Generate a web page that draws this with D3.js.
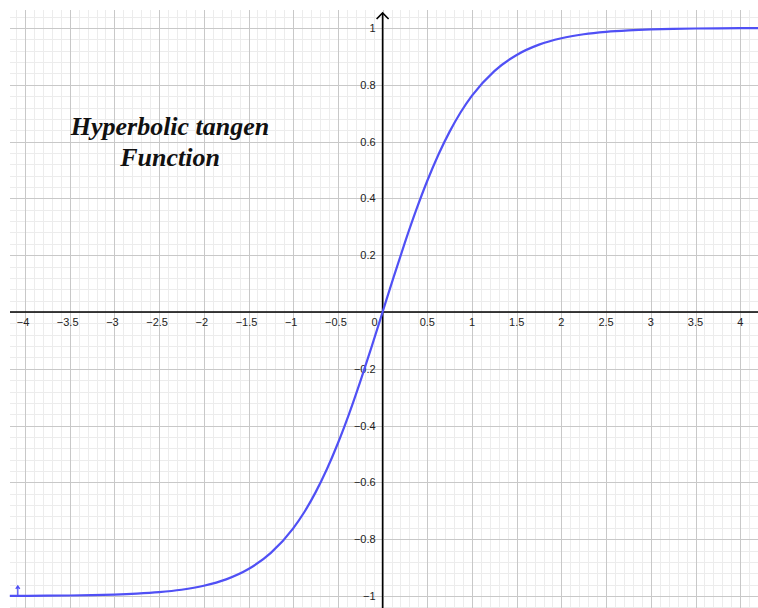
<!DOCTYPE html>
<html>
<head>
<meta charset="utf-8">
<script src="https://cdn.jsdelivr.net/npm/d3@7"></script>
<style>
  html, body { margin: 0; padding: 0; background: #fff; }
  svg { display: block; }
</style>
</head>
<body>
<svg id="chart" width="758" height="608"></svg>
<script>
// Sampled points of y = tanh(x)
const xs = [-4.17, -4, -3.75, -3.5, -3.25, -3, -2.75, -2.5, -2.25, -2, -1.75, -1.5, -1.25, -1,
            -0.875, -0.75, -0.625, -0.5, -0.375, -0.25, -0.125, 0, 0.125, 0.25, 0.375, 0.5,
            0.625, 0.75, 0.875, 1, 1.25, 1.5, 1.75, 2, 2.25, 2.5, 2.75, 3, 3.25, 3.5, 3.75, 4, 4.2];
const ys = [-0.9995, -0.9993, -0.9989, -0.9982, -0.9970, -0.9951, -0.9918, -0.9866, -0.9780, -0.9640,
            -0.9414, -0.9051, -0.8483, -0.7616, -0.7042, -0.6351, -0.5546, -0.4621, -0.3584, -0.2449,
            -0.1244, 0, 0.1244, 0.2449, 0.3584, 0.4621, 0.5546, 0.6351, 0.7042, 0.7616, 0.8483,
            0.9051, 0.9414, 0.9640, 0.9780, 0.9866, 0.9918, 0.9951, 0.9970, 0.9982, 0.9989, 0.9993, 0.9995];

const xTicks = [-4, -3.5, -3, -2.5, -2, -1.5, -1, -0.5, 0.5, 1, 1.5, 2, 2.5, 3, 3.5, 4];
const yTicks = [1, 0.8, 0.6, 0.4, 0.2, -0.2, -0.4, -0.6, -0.8, -1];
const titleLines = ["Hyperbolic tangen", "Function"];

const svg = d3.select("#chart");
const padL = 10, padR = 758, padT = 10, padB = 608;

const x = d3.scaleLinear().domain([-4, 4]).range([25, 740.2]);
const y = d3.scaleLinear().domain([-1, 1]).range([596, 28]);

const x0 = x.invert(padL), x1 = x.invert(padR);
const y0 = y.invert(padB), y1 = y.invert(padT);

const fmt = v => (v < 0 ? "\u2212" : "") + String(Math.abs(v));

// grid
const g = svg.append("g");
const near = (a, b) => Math.abs(a - b) < 1e-6;
const vAll = d3.range(Math.ceil(x0 / 0.1), Math.floor(x1 / 0.1) + 1).map(i => i * 0.1);
const hAll = d3.range(Math.ceil(y0 / 0.04), Math.floor(y1 / 0.04) + 1).map(i => i * 0.04);
const isMajorX = v => near(v / 0.5, Math.round(v / 0.5));
const isMajorY = v => near(v / 0.2, Math.round(v / 0.2));

g.selectAll("line.vmin").data(vAll.filter(v => !isMajorX(v))).join("line")
  .attr("x1", d => Math.round(x(d)) + 0.5).attr("x2", d => Math.round(x(d)) + 0.5)
  .attr("y1", padT).attr("y2", padB).attr("stroke", "#ececec").attr("stroke-width", 1);
g.selectAll("line.hmin").data(hAll.filter(v => !isMajorY(v))).join("line")
  .attr("y1", d => Math.round(y(d)) + 0.5).attr("y2", d => Math.round(y(d)) + 0.5)
  .attr("x1", padL).attr("x2", padR).attr("stroke", "#ececec").attr("stroke-width", 1);
g.selectAll("line.vmaj").data(vAll.filter(isMajorX)).join("line")
  .attr("x1", d => Math.round(x(d)) + 0.5).attr("x2", d => Math.round(x(d)) + 0.5)
  .attr("y1", padT).attr("y2", padB).attr("stroke", "#c8c8c8").attr("stroke-width", 1);
g.selectAll("line.hmaj").data(hAll.filter(isMajorY)).join("line")
  .attr("y1", d => Math.round(y(d)) + 0.5).attr("y2", d => Math.round(y(d)) + 0.5)
  .attr("x1", padL).attr("x2", padR).attr("stroke", "#c8c8c8").attr("stroke-width", 1);

// axes
svg.append("line").attr("x1", padL).attr("x2", padR)
  .attr("y1", y(0)).attr("y2", y(0)).attr("stroke", "#000").attr("stroke-width", 1.6);
svg.append("line").attr("x1", x(0)).attr("x2", x(0))
  .attr("y1", padT + 3).attr("y2", padB).attr("stroke", "#000").attr("stroke-width", 1.6);
svg.append("path")
  .attr("d", `M${x(0) - 6},${padT + 9} L${x(0)},${padT + 3} L${x(0) + 6},${padT + 9}`)
  .attr("fill", "none").attr("stroke", "#000").attr("stroke-width", 1.6);

// tick labels
const lab = svg.append("g").attr("font-family", "'Liberation Sans', Arial, sans-serif")
  .attr("font-size", 11).attr("fill", "#222");
lab.selectAll("text.xt").data(xTicks).join("text")
  .attr("x", d => x(d) + (d < 0 ? -2 : 0)).attr("y", y(0) + 14)
  .attr("text-anchor", "middle").text(fmt);
lab.append("text").attr("x", x(0) - 5).attr("y", y(0) + 14)
  .attr("text-anchor", "end").text("0");
lab.selectAll("text.yt").data(yTicks).join("text")
  .attr("x", x(0) - 7).attr("y", d => y(d) + 4)
  .attr("text-anchor", "end").text(fmt);

// curve
const line = d3.line().x((d, i) => x(xs[i])).y(d => y(d)).curve(d3.curveMonotoneX);
svg.append("path").datum(ys).attr("d", line)
  .attr("fill", "none").attr("stroke", "#5050f5").attr("stroke-width", 2.2)
  .attr("stroke-linejoin", "round");

// small marker at the left end of the curve
const mx = x(xs[0]) + 8, my = y(ys[0]);
svg.append("path")
  .attr("d", `M${mx},${my} L${mx},${my - 10} M${mx - 2},${my - 7} L${mx},${my - 10} L${mx + 2},${my - 7}`)
  .attr("fill", "none").attr("stroke", "#5050f5").attr("stroke-width", 1.3);

// title
svg.append("g").attr("font-family", "'Liberation Serif', 'DejaVu Serif', serif")
  .attr("font-size", 26).attr("font-style", "italic").attr("font-weight", "bold")
  .attr("fill", "#111").attr("text-anchor", "middle")
  .selectAll("text").data(titleLines).join("text")
  .attr("x", 170).attr("y", (d, i) => 135 + i * 31).text(d => d);
</script>
</body>
</html>
